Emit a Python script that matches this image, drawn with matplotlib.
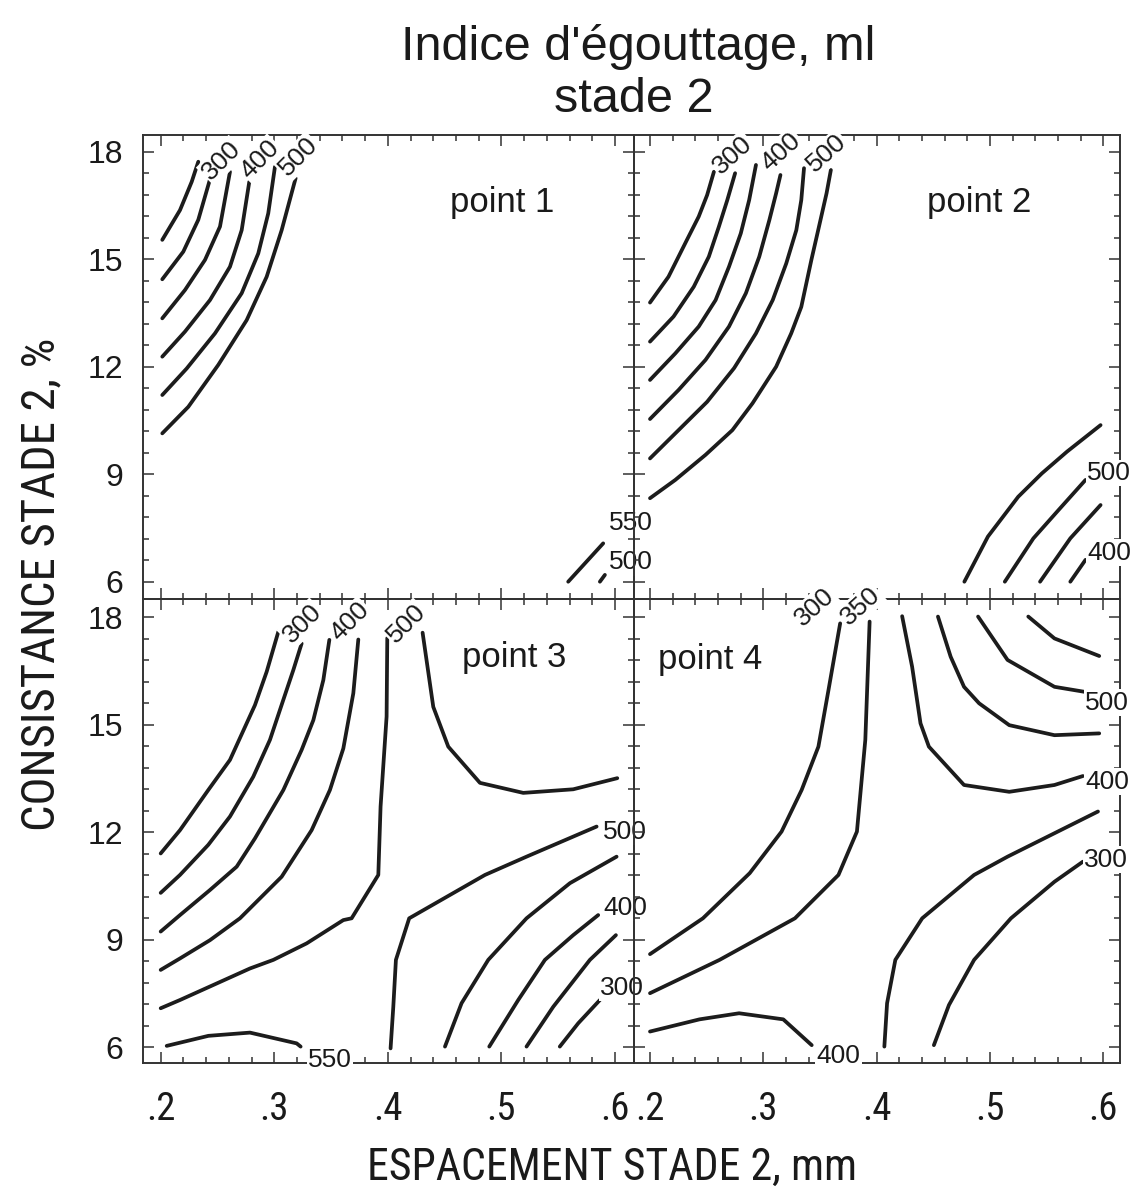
import matplotlib
matplotlib.use("Agg")
import matplotlib.pyplot as plt
from matplotlib.ticker import MultipleLocator
from matplotlib import font_manager as fm

REG = ['Liberation Sans', 'DejaVu Sans']
plt.rcParams['font.family'] = REG

# ------------------------------------------------------------------ data
TITLE = "Indice d'égouttage, ml"
SUBTITLE = "stade 2"
X_LABEL = "ESPACEMENT STADE 2, mm"
Y_LABEL = "CONSISTANCE STADE 2, %"
X_TICKS = [0.2, 0.3, 0.4, 0.5, 0.6]
X_TICK_LABELS = [".2", ".3", ".4", ".5", ".6"]
Y_TICKS = [6, 9, 12, 15, 18]
Y_TICK_LABELS = ["6", "9", "12", "15", "18"]
X_MINOR_STEP = 0.02
Y_MINOR_STEP = 0.6
PANEL_NAMES = ["point 1", "point 2", "point 3", "point 4"]

# contour lines per panel: (level, x [mm], y [%])
P1_LINES = [
    (300, [0.2014, 0.2170, 0.2273, 0.2331], [15.54, 16.37, 17.16, 17.72]),
    (350, [0.2014, 0.2199, 0.2331, 0.2434], [14.44, 15.21, 16.10, 17.23]),
    (400, [0.2014, 0.2214, 0.2390, 0.2522, 0.2610], [13.35, 14.14, 14.98, 15.91, 17.44]),
    (450, [0.2014, 0.2214, 0.2434, 0.2610, 0.2713, 0.2780], [12.28, 12.98, 13.86, 14.79, 15.81, 17.16]),
    (500, [0.2014, 0.2229, 0.2478, 0.2713, 0.2859, 0.2947, 0.3006], [11.21, 11.95, 12.93, 14.05, 15.16, 16.28, 17.58]),
    (550, [0.2014, 0.2243, 0.2507, 0.2757, 0.2933, 0.3065, 0.3188], [10.14, 10.88, 12.05, 13.30, 14.51, 15.81, 17.26]),
    (550, [0.5588, 0.5896], [6.00, 7.07]),
    (500, [0.5867, 0.5911], [6.00, 6.19]),
]
P1_LABELS = [("300", 0.2537, 17.75, 45), ("400", 0.2874, 17.79, 45), ("500", 0.3212, 17.86, 45),
             ("550", 0.6141, 7.64, 0), ("500", 0.6141, 6.54, 0)]

P2_LINES = [
    (300, [0.2000, 0.2163, 0.2326, 0.2430, 0.2504, 0.2564], [13.79, 14.51, 15.54, 16.19, 16.79, 17.44]),
    (350, [0.2000, 0.2208, 0.2386, 0.2519, 0.2608, 0.2682, 0.2751], [12.70, 13.40, 14.23, 15.07, 15.91, 16.65, 17.40]),
    (400, [0.2000, 0.2223, 0.2430, 0.2579, 0.2697, 0.2801, 0.2875, 0.2935], [11.63, 12.37, 13.12, 13.86, 14.79, 15.72, 16.65, 17.63]),
    (450, [0.2000, 0.2252, 0.2490, 0.2697, 0.2846, 0.2964, 0.3053, 0.3113, 0.3151], [10.54, 11.35, 12.19, 13.12, 14.05, 15.07, 16.09, 16.84, 17.35]),
    (500, [0.2000, 0.2252, 0.2504, 0.2742, 0.2935, 0.3083, 0.3202, 0.3291, 0.3335, 0.3359], [9.44, 10.23, 11.02, 11.96, 12.93, 13.86, 14.88, 15.81, 16.65, 17.54]),
    (550, [0.2000, 0.2223, 0.2490, 0.2727, 0.2905, 0.3113, 0.3246, 0.3335, 0.3424, 0.3484, 0.3558, 0.3596], [8.33, 8.84, 9.54, 10.23, 10.98, 12.00, 12.93, 13.67, 14.98, 15.81, 16.84, 17.49]),
    (550, [0.4774, 0.4982, 0.5249, 0.5457, 0.5680, 0.5976], [6.00, 7.26, 8.37, 9.02, 9.63, 10.37]),
    (500, [0.5131, 0.5383, 0.5605, 0.5843], [6.00, 7.21, 8.00, 8.84]),
    (450, [0.5442, 0.5709, 0.5976], [6.00, 7.21, 8.14]),
    (400, [0.5709, 0.5843], [6.00, 6.61]),
]
P2_LABELS = [("300", 0.2727, 17.91, 42), ("400", 0.3157, 18.00, 42), ("500", 0.3558, 17.95, 42),
             ("500", 0.6050, 9.03, 0), ("400", 0.6050, 6.81, 0)]

P3_LINES = [
    (300, [0.2000, 0.2170, 0.2419, 0.2610, 0.2830, 0.2933, 0.3036], [11.41, 12.06, 13.18, 14.02, 15.55, 16.48, 17.60]),
    (350, [0.2000, 0.2170, 0.2419, 0.2610, 0.2815, 0.2962, 0.3079, 0.3168, 0.3241], [10.31, 10.81, 11.65, 12.44, 13.55, 14.58, 15.69, 16.53, 17.27]),
    (400, [0.2000, 0.2170, 0.2434, 0.2669, 0.2830, 0.3080, 0.3241, 0.3344, 0.3432, 0.3485], [9.23, 9.69, 10.39, 11.04, 11.83, 13.18, 14.30, 15.13, 16.25, 17.37]),
    (450, [0.2000, 0.2170, 0.2434, 0.2698, 0.3065, 0.3329, 0.3490, 0.3608, 0.3696, 0.3740], [8.16, 8.48, 8.99, 9.60, 10.76, 12.06, 13.18, 14.34, 15.88, 17.38]),
    (500, [0.2000, 0.2170, 0.2786, 0.2992, 0.3285, 0.3608, 0.3681, 0.3916, 0.3936, 0.3989, 0.3995], [7.09, 7.32, 8.20, 8.44, 8.90, 9.55, 9.60, 10.81, 12.72, 15.23, 17.42]),
    (550, [0.2053, 0.2420, 0.2786, 0.3197, 0.3232], [6.04, 6.32, 6.41, 6.11, 6.02]),
    (500, [0.4024, 0.4048, 0.4071, 0.4188, 0.4855, 0.5221, 0.5838], [5.97, 7.13, 8.44, 9.60, 10.81, 11.32, 12.16]),
    (550, [0.4306, 0.4400, 0.4532, 0.4811, 0.5192, 0.5632, 0.6020], [17.57, 15.50, 14.39, 13.38, 13.10, 13.20, 13.51]),
    (450, [0.4503, 0.4649, 0.4884, 0.5221, 0.5603, 0.6014], [6.02, 7.23, 8.44, 9.60, 10.58, 11.32]),
    (400, [0.4893, 0.5148, 0.5383, 0.5632, 0.5852], [6.02, 7.32, 8.44, 9.13, 9.69]),
    (350, [0.5221, 0.5456, 0.5779, 0.6008], [6.02, 7.13, 8.44, 9.13]),
    (300, [0.5514, 0.5676, 0.5867], [6.02, 6.67, 7.32]),
]
P3_LABELS = [("300", 0.3247, 17.83, 45), ("400", 0.3667, 17.88, 45), ("500", 0.4160, 17.83, 45),
             ("550", 0.3491, 5.65, 0), ("500", 0.6087, 12.01, 0), ("400", 0.6087, 9.89, 0),
             ("300", 0.6060, 7.65, 0)]

P4_LINES = [
    (300, [0.2000, 0.2467, 0.2880, 0.3161, 0.3338, 0.3486, 0.3575, 0.3678], [8.60, 9.60, 10.86, 12.02, 13.18, 14.39, 15.97, 17.83]),
    (350, [0.2000, 0.2614, 0.3279, 0.3663, 0.3826, 0.3900, 0.3938], [7.51, 8.44, 9.60, 10.81, 12.02, 14.58, 17.88]),
    (400, [0.2000, 0.2437, 0.2786, 0.3176, 0.3427], [6.44, 6.78, 6.95, 6.78, 6.06]),
    (350, [0.4068, 0.4092, 0.4165, 0.4402, 0.4860, 0.5155, 0.5953], [6.02, 7.23, 8.44, 9.60, 10.81, 11.32, 12.58]),
    (300, [0.4505, 0.4638, 0.4860, 0.5185, 0.5569, 0.5820], [6.06, 7.18, 8.44, 9.60, 10.62, 11.18]),
    (400, [0.4225, 0.4313, 0.4387, 0.4461, 0.4771, 0.5170, 0.5569, 0.5820], [18.03, 16.62, 15.04, 14.39, 13.32, 13.13, 13.32, 13.57]),
    (450, [0.4541, 0.4653, 0.4771, 0.4904, 0.5170, 0.5569, 0.5964], [18.02, 16.90, 16.06, 15.60, 14.99, 14.71, 14.76]),
    (500, [0.4895, 0.5155, 0.5569, 0.5835], [18.02, 16.81, 16.06, 15.92]),
    (550, [0.5338, 0.5569, 0.5964], [18.02, 17.41, 16.92]),
]
P4_LABELS = [("300", 0.3456, 18.29, 42), ("350", 0.3862, 18.32, 42), ("400", 0.3663, 5.76, 0),
             ("300", 0.6027, 11.24, 0), ("400", 0.6033, 13.41, 0), ("500", 0.6033, 15.62, 0)]

# ------------------------------------------------------------------ layout
W, H = 1144, 1194
LINE_COLOR = '#1c1c1c'
TEXT_COLOR = '#1a1a1a'
SPINE_COLOR = '#333333'


def find_narrow_font():
    """Return FontProperties for an installed condensed sans font, or None."""
    ents = fm.fontManager.ttflist
    prefs = ['Liberation Sans Narrow', 'Roboto Condensed', 'DejaVu Sans Condensed',
             'Open Sans Condensed', 'Noto Sans Condensed']
    for p in prefs:
        for e in ents:
            if e.name == p and e.style == 'normal' and e.weight in (400, 'normal', 'regular'):
                return fm.FontProperties(fname=e.fname)
    bad = ('Bold', 'Italic', 'Oblique', 'Light', 'Thin', 'Medium', 'Black', 'Semi',
           'Extra', 'Serif', 'Mono', 'Heavy')
    for e in ents:
        base = e.fname.rsplit('/', 1)[-1]
        if ('Condensed' in base or 'Narrow' in base) and not any(b in base for b in bad):
            return fm.FontProperties(fname=e.fname)
    return None


NARROW_FP = find_narrow_font()


def narrow(size):
    if NARROW_FP is not None:
        fp = NARROW_FP.copy()
    else:
        fp = fm.FontProperties(family=REG)
    fp.set_size(size)
    return fp


def rect(x0, y0, x1, y1):
    return [x0 / W, 1 - y1 / H, (x1 - x0) / W, (y1 - y0) / H]


PANELS = [
    (P1_LINES, P1_LABELS, PANEL_NAMES[0], (0.4547, 16.33), rect(143, 134.5, 634, 599.3),
     (0.18442, 0.61673), (5.509, 18.48), False, True),
    (P2_LINES, P2_LABELS, PANEL_NAMES[1], (0.4448, 16.33), rect(634, 134.5, 1120, 599.3),
     (0.18588, 0.61474), (5.509, 18.48), False, False),
    (P3_LINES, P3_LABELS, PANEL_NAMES[2], (0.4649, 16.61), rect(143, 599.3, 634, 1063),
     (0.18442, 0.61673), (5.562, 18.502), True, True),
    (P4_LINES, P4_LABELS, PANEL_NAMES[3], (0.2068, 16.56), rect(634, 599.3, 1120, 1063),
     (0.18588, 0.61474), (5.562, 18.502), True, False),
]

fig = plt.figure(figsize=(W / 100, H / 100), dpi=100)
xtick_size = 28 if NARROW_FP is not None else 24

for lines, labels, name, npos, r, xlim, ylim, showx, showy in PANELS:
    ax = fig.add_axes(r)
    ax.patch.set_visible(False)
    for lvl, xs, ys in lines:
        ax.plot(xs, ys, color=LINE_COLOR, lw=2.7, solid_capstyle='round',
                solid_joinstyle='round', zorder=3)
    for s, x, y, rot in labels:
        ax.text(x, y, s, rotation=rot, rotation_mode='anchor', ha='center', va='center',
                fontsize=19, color=TEXT_COLOR, zorder=6, clip_on=False,
                bbox=dict(facecolor='white', edgecolor='none', pad=1.0))
    ax.text(npos[0], npos[1], name, ha='left', va='baseline', fontsize=25, color=TEXT_COLOR)
    ax.set_xlim(*xlim)
    ax.set_ylim(*ylim)
    ax.set_xticks(X_TICKS)
    ax.set_yticks(Y_TICKS)
    ax.xaxis.set_minor_locator(MultipleLocator(X_MINOR_STEP))
    ax.yaxis.set_minor_locator(MultipleLocator(Y_MINOR_STEP))
    ax.tick_params(which='both', direction='in', top=True, right=True, width=1.1,
                   color=SPINE_COLOR)
    ax.tick_params(which='major', length=8)
    ax.tick_params(which='minor', length=4.3)
    for sp in ax.spines.values():
        sp.set_linewidth(1.4)
        sp.set_color(SPINE_COLOR)
    if showx:
        ax.set_xticklabels(X_TICK_LABELS, color=TEXT_COLOR)
        for t in ax.get_xticklabels():
            t.set_fontproperties(narrow(xtick_size))
        ax.tick_params(axis='x', which='major', pad=20)
    else:
        ax.tick_params(axis='x', labelbottom=False)
    if showy:
        ax.set_yticklabels(Y_TICK_LABELS, fontsize=23, color=TEXT_COLOR)
        ax.tick_params(axis='y', which='major', pad=14)
    else:
        ax.tick_params(axis='y', labelleft=False)

fig.text(638 / W, 1 - 60 / H, TITLE, ha='center', va='baseline', fontsize=35, color=TEXT_COLOR)
fig.text(634 / W, 1 - 112 / H, SUBTITLE, ha='center', va='baseline', fontsize=35, color=TEXT_COLOR)
xl = fig.text(612 / W, 1 - 1180 / H, X_LABEL, ha='center', va='baseline',
              fontproperties=narrow(31), color=TEXT_COLOR)
yl = fig.text(41 / W, 1 - 584 / H, Y_LABEL, ha='center', va='center', rotation=90,
              fontproperties=narrow(31), color=TEXT_COLOR)

# fit the axis titles to the length they have in the reference
renderer = fig.canvas.get_renderer()
for t, target, use_w in ((xl, 490.0, True), (yl, 492.0, False)):
    bb = t.get_window_extent(renderer=renderer)
    cur = bb.width if use_w else bb.height
    t.set_fontproperties(narrow(31 * target / cur))

fig.savefig('out.png', dpi=100, facecolor='white')
